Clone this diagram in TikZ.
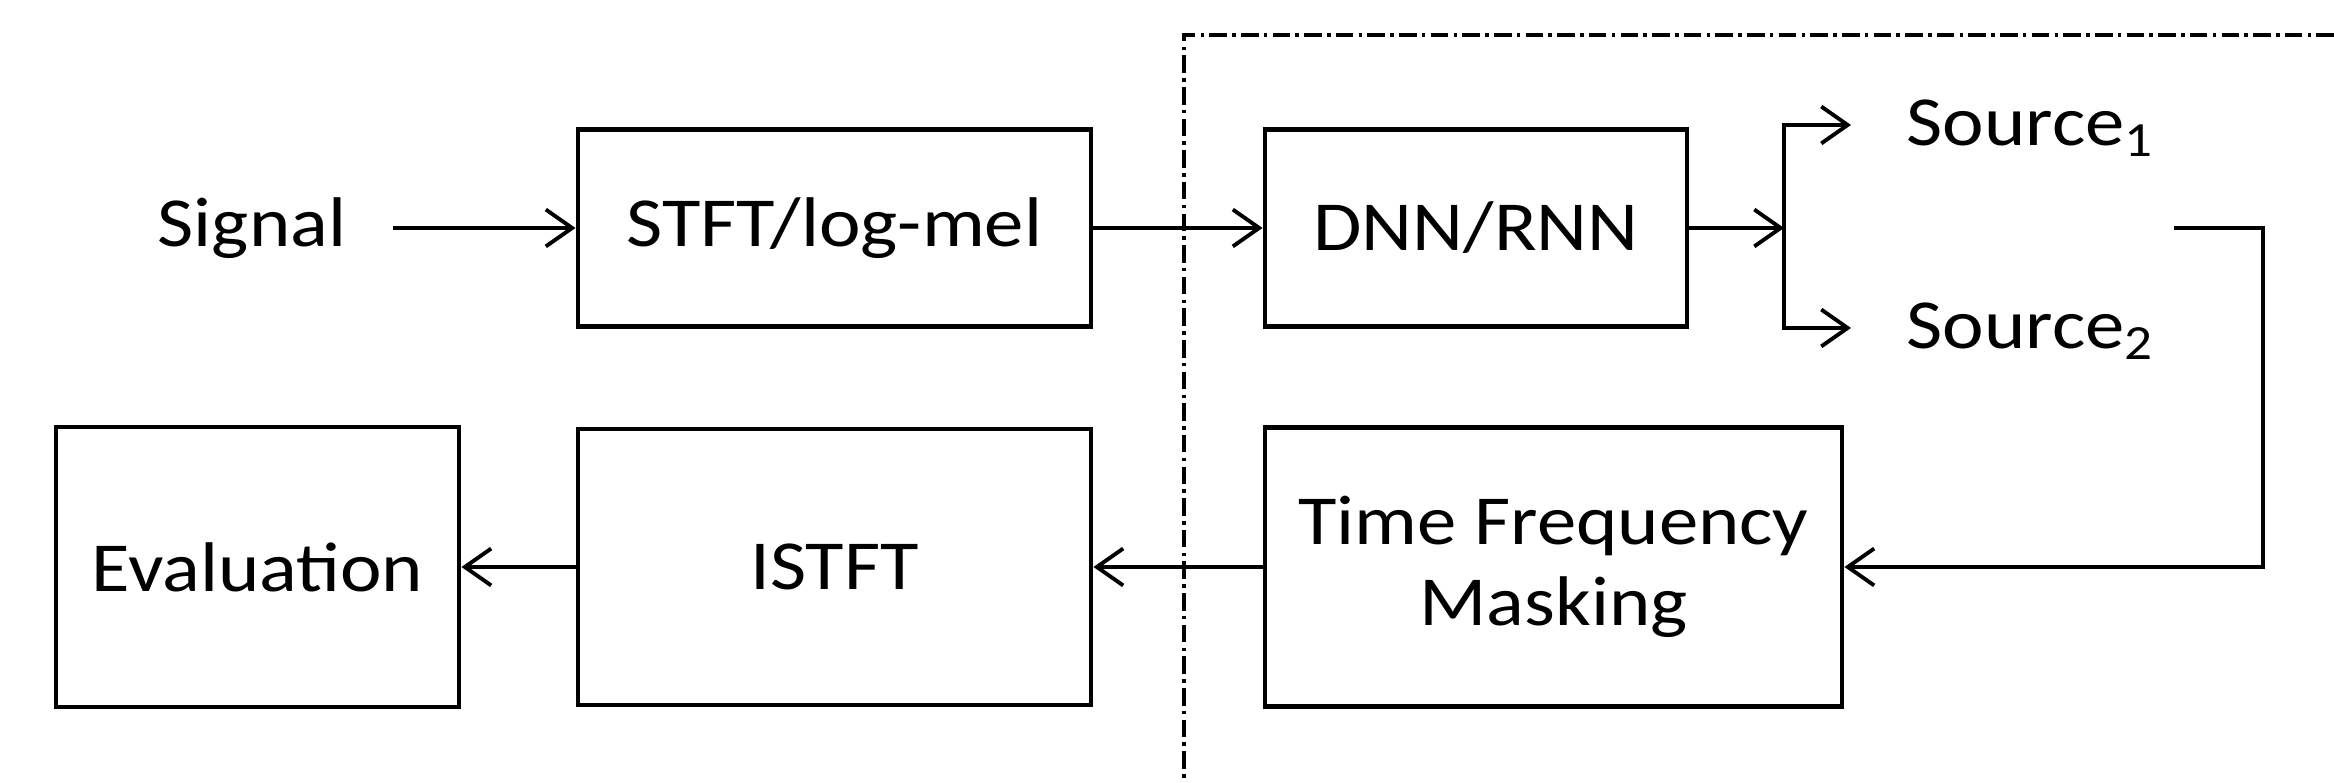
\documentclass[tikz,border=0pt]{standalone}
\usepackage{fontspec}
\setmainfont{Carlito}[FakeStretch=1.12]
\usepackage{tikz}
\usetikzlibrary{arrows.meta, positioning}

\tikzset{
  blok/.style={draw, line width=1.4pt, inner sep=0pt, align=center,
    font=\fontsize{20}{24}\selectfont},
  flow/.style={line width=1.1pt, -{Straight Barb[length=7.5pt, width=10.5pt]}},
  lbl/.style={inner sep=0pt, font=\fontsize{20}{24}\selectfont}
}

\begin{document}
\begin{tikzpicture}
\useasboundingbox (0,0) rectangle (23.34,7.83);

% top row
\node[lbl] (signal) at (2.52,5.55) {Signal};
\node[blok, minimum width=5.13cm, minimum height=1.97cm] (stft) at (8.345,5.55) {STFT/log-mel};
\node[blok, minimum width=4.22cm, minimum height=1.97cm] (dnn) at (14.76,5.55) {DNN/RNN};
\coordinate (split) at (17.84,5.55);
\coordinate (tip1) at (18.51,6.58);
\coordinate (tip2) at (18.51,4.55);
\node[lbl, anchor=west] (src1) at (19.06,6.55) {Source\textsubscript{1}};
\node[lbl, anchor=west] (src2) at (19.06,4.52) {Source\textsubscript{2}};

% bottom row
\node[blok, minimum width=4.03cm, minimum height=2.80cm] (eval) at (2.575,2.16) {Evaluation};
\node[blok, minimum width=5.13cm, minimum height=2.76cm] (istft) at (8.345,2.16) {ISTFT};
\node[blok, minimum width=5.77cm, minimum height=2.79cm] (tfm) at (15.535,2.16) {Time Frequency\\[-1pt]Masking};

% connections
\draw[flow] ([xshift=13pt]signal.east) -- (stft.west);
\draw[flow] (stft.east) -- (dnn.west);
\draw[flow] (dnn.east) -- (split);
\draw[flow] (split) |- (tip1);
\draw[flow] (split) |- (tip2);
\coordinate (ret) at (21.74,5.55);
\coordinate (bend) at (22.63,5.55);
\draw[flow] (ret) -- (bend) |- (tfm.east);
\draw[flow] (tfm.west) -- (istft.east);
\draw[flow] (istft.west) -- (eval.east);

% separation boundary
\draw[line width=0.9pt, dash pattern=on 5pt off 1.5pt on 1pt off 1.5pt]
  (23.34,7.48) -- (11.84,7.48) -- (11.84,0);
\end{tikzpicture}
\end{document}
